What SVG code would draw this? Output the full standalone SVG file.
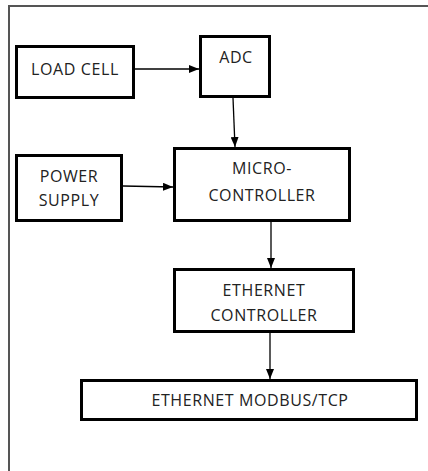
<svg xmlns="http://www.w3.org/2000/svg" width="428" height="471" viewBox="0 0 428 471">
<style>
.box{fill:#fff;stroke:#000;stroke-width:3}
.lbl{font-family:"Open Sans","Liberation Sans",sans-serif;font-size:16px;letter-spacing:0.6px;fill:#222;text-anchor:middle}
.conn{stroke:#000;stroke-width:1.3;fill:none;marker-end:url(#arr)}
</style>
<defs>
<marker id="arr" markerUnits="userSpaceOnUse" markerWidth="10" markerHeight="8" refX="10" refY="4" orient="auto">
<path d="M0,0 L10,4 L0,8 z" fill="#000"/>
</marker>
</defs>
<rect width="428" height="471" fill="#fff"/>
<path d="M9,471 V6 H428" fill="none" stroke="#555" stroke-width="2"/>
<g id="load-cell"><rect class="box" x="16.5" y="46.5" width="117" height="51"/><text class="lbl" x="75" y="75">LOAD CELL</text></g>
<g id="adc"><rect class="box" x="200.5" y="36.5" width="69" height="60"/><text class="lbl" x="236" y="63">ADC</text></g>
<g id="power-supply"><rect class="box" x="16.5" y="155.5" width="105" height="65"/><text class="lbl" x="69" y="182">POWER</text><text class="lbl" x="69" y="206">SUPPLY</text></g>
<g id="microcontroller"><rect class="box" x="174.5" y="148.5" width="175" height="72"/><text class="lbl" x="262" y="174">MICRO-</text><text class="lbl" x="262" y="201">CONTROLLER</text></g>
<g id="ethernet-controller"><rect class="box" x="174.5" y="269.5" width="179" height="62"/><text class="lbl" x="264" y="296">ETHERNET</text><text class="lbl" x="264" y="321">CONTROLLER</text></g>
<g id="modbus"><rect class="box" x="81.5" y="380.5" width="335" height="39"/><text class="lbl" x="250" y="406">ETHERNET MODBUS/TCP</text></g>
<g id="connectors">
<line class="conn" x1="135" y1="69" x2="199" y2="69"/>
<line class="conn" x1="233" y1="98" x2="235" y2="147"/>
<line class="conn" x1="123" y1="186" x2="173" y2="187"/>
<line class="conn" x1="271" y1="222" x2="271" y2="268"/>
<line class="conn" x1="270" y1="333" x2="270" y2="379"/>
</g>
</svg>
